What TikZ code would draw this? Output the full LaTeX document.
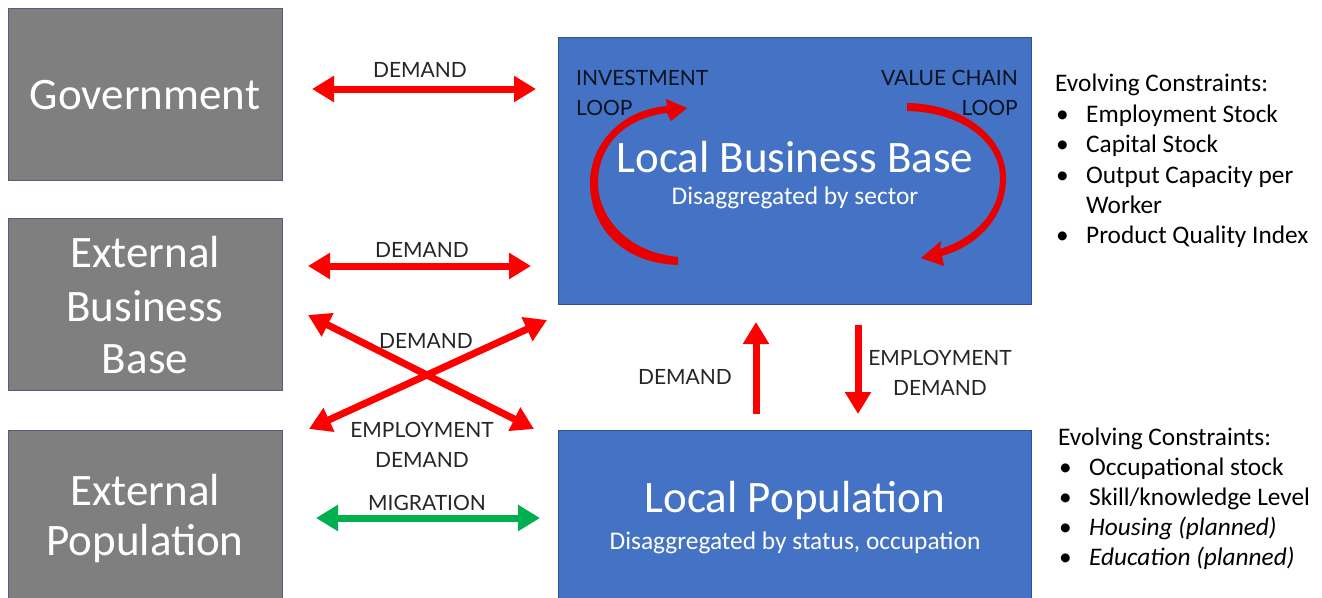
\documentclass[tikz,border=0pt]{standalone}
\usepackage{fontspec}
\setmainfont{Carlito}
\newfontfamily\labelfont{Lato}
\usetikzlibrary{arrows.meta}
\definecolor{boxgray}{HTML}{7F7F7F}
\definecolor{boxgrayline}{HTML}{50607C}
\definecolor{bizblue}{HTML}{4472C4}
\definecolor{bizblueline}{HTML}{2F528F}
\definecolor{flowred}{HTML}{FF0000}
\definecolor{loopred}{HTML}{E80000}
\definecolor{flowgreen}{HTML}{00B050}
\definecolor{labelgray}{HTML}{262626}
\definecolor{loopink}{HTML}{0C1220}

\begin{document}
\begin{tikzpicture}[x=1pt,y=-1pt,
  extbox/.style={draw=boxgrayline, line width=0.8pt, fill=boxgray, anchor=north west, inner sep=0pt, outer sep=0pt},
  localbox/.style={draw=bizblueline, line width=0.8pt, fill=bizblue, anchor=north west, inner sep=0pt, outer sep=0pt},
  boxtitle/.style={text=white, inner sep=0pt, font=\fontsize{45}{47}\selectfont},
  boxsub/.style={text=white, inner sep=0pt, font=\fontsize{25.4}{27}\selectfont},
  flowlabel/.style={text=labelgray, inner sep=0pt, font=\labelfont\fontsize{21}{30}\selectfont, align=center},
  looplabel/.style={text=loopink, inner sep=0pt, font=\labelfont\fontsize{21}{30}\selectfont},
  listline/.style={anchor=base west, inner sep=0pt, text=black, font=\fontsize{25.3}{28}\selectfont},
  flow/.style={draw=flowred, line width=7pt, {Triangle[width=25pt,length=22pt]}-{Triangle[width=25pt,length=22pt]}},
  oneway/.style={draw=flowred, line width=7pt, -{Triangle[width=25pt,length=22pt]}},
]
\useasboundingbox (0,0) rectangle (1322,597);
\fill[white] (0,0) rectangle (1322,597);

% outside actors
\node[extbox, minimum width=274pt, minimum height=172pt] (gov) at (8,8) {};
\node[extbox, minimum width=274pt, minimum height=172pt] (ebb) at (8,218) {};
\node[extbox, minimum width=274pt, minimum height=172pt] (epop) at (8,430) {};
\node[boxtitle] (govtxt) at (145,95) {Government};
\node[boxtitle] (ebb1) at (145,252) {External};
\node[boxtitle] (ebb2) at (145,306) {Business};
\node[boxtitle] (ebb3) at (145,359) {Base};
\node[boxtitle] (epop1) at (145,490) {External};
\node[boxtitle] (epop2) at (145,543) {Population};

% local system
\node[localbox, minimum width=473pt, minimum height=267pt] (lbb) at (558,37) {};
\node[localbox, minimum width=473pt, minimum height=172pt] (lpop) at (558,430) {};

% feedback loops inside the business base
\fill[loopred] (678,257) .. controls (625,252) and (598,215) .. (598,183)
  .. controls (598,145) and (625,118) .. (667,113) -- (671,121) -- (687,108)
  -- (666,99) -- (667,106) .. controls (620,110) and (590,145) .. (590,183)
  .. controls (590,225) and (620,263) .. (678,265) -- cycle;
\fill[loopred] (907,103) .. controls (965,104) and (1006,138) .. (1006,178)
  .. controls (1006,215) and (980,245) .. (942,256) -- (944,266) -- (921,258)
  -- (941,241) -- (940,249) .. controls (975,238) and (1000,212) .. (1000,178)
  .. controls (1000,142) and (962,112) .. (907,111) -- cycle;

\node[boxtitle] (lbbtxt) at (795,157) {Local Business Base};
\node[boxsub] (lbbsub) at (795,198) {Disaggregated by sector};
\node[boxtitle] (lpoptxt) at (795,500) {Local Population};
\node[boxsub] (lpopsub) at (795,543) {Disaggregated by status, occupation};

\node[looplabel, anchor=base west] (inv1) at (576,85) {INVESTMENT};
\node[looplabel, anchor=base west] (inv2) at (576,115) {LOOP};
\node[looplabel, anchor=base east] (vc1) at (1018,85) {VALUE CHAIN};
\node[looplabel, anchor=base east] (vc2) at (1018,115) {LOOP};

% flow end points
\coordinate (govL) at (312,89);   \coordinate (govR) at (536,89);
\coordinate (ebbL) at (308,266);  \coordinate (ebbR) at (531,266);
\coordinate (xa1) at (308,315);   \coordinate (xa2) at (534,429);
\coordinate (xb1) at (309,429);   \coordinate (xb2) at (547,320);
\coordinate (upS) at (756,414);   \coordinate (upE) at (756,322);
\coordinate (dnS) at (858,325);   \coordinate (dnE) at (858,414);
\coordinate (migL) at (316,518);  \coordinate (migR) at (540,518);

\draw[flow] (govL) -- (govR);
\draw[flow] (ebbL) -- (ebbR);
\draw[flow] (xa1) -- (xa2);
\draw[flow] (xb1) -- (xb2);
\draw[oneway] (upS) -- (upE);
\draw[oneway] (dnS) -- (dnE);
\draw[flow, draw=flowgreen] (migL) -- (migR);

\node[flowlabel] (govlbl) at (420,70) {DEMAND};
\node[flowlabel] (ebblbl) at (422,250) {DEMAND};
\node[flowlabel] (xlbl1) at (426,341) {DEMAND};
\node[flowlabel] (xlbl2) at (422,445) {EMPLOYMENT\\DEMAND};
\node[flowlabel] (uplbl) at (685,377) {DEMAND};
\node[flowlabel] (dnlbl) at (940,373) {EMPLOYMENT\\DEMAND};
\node[flowlabel] (miglbl) at (427,503) {MIGRATION};

% constraint lists
\node[listline] (bc0) at (1055,91) {Evolving Constraints:};
\node[listline] (bb1) at (1056,122) {•};
\node[listline] (bc1) at (1086,122) {Employment Stock};
\node[listline] (bb2) at (1056,152) {•};
\node[listline] (bc2) at (1086,152) {Capital Stock};
\node[listline] (bb3) at (1056,183) {•};
\node[listline] (bc3) at (1086,183) {Output Capacity per};
\node[listline] (bc3b) at (1086,213) {Worker};
\node[listline] (bb4) at (1056,243) {•};
\node[listline] (bc4) at (1086,243) {Product Quality Index};

\node[listline] (pc0) at (1058,445) {Evolving Constraints:};
\node[listline] (pb1) at (1059,475) {•};
\node[listline] (pc1) at (1089,475) {Occupational stock};
\node[listline] (pb2) at (1059,505) {•};
\node[listline] (pc2) at (1089,505) {Skill/knowledge Level};
\node[listline] (pb3) at (1059,535) {•};
\node[listline] (pc3) at (1089,535) {\itshape Housing (planned)};
\node[listline] (pb4) at (1059,565) {•};
\node[listline] (pc4) at (1089,565) {\itshape Education (planned)};
\end{tikzpicture}
\end{document}
